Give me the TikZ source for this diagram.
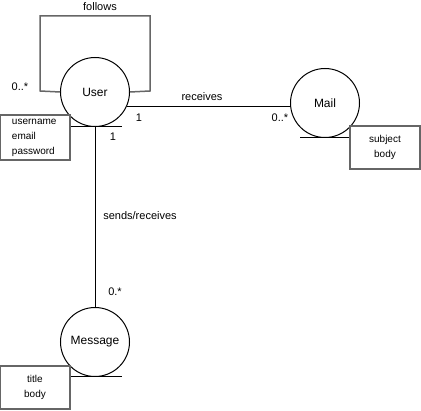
\documentclass[tikz,border=0pt]{standalone}
\usepackage{fontspec}
\setmainfont{Liberation Sans}
\usetikzlibrary{positioning}
\tikzset{
  entity/.style={draw, circle, line width=1pt, minimum size=69pt, inner sep=0pt,
    font=\fontsize{12}{14}\selectfont},
  attrbox/.style={draw=black!60, line width=1.5pt, fill=white, rectangle,
    minimum width=70pt, inner sep=0pt, font=\fontsize{10}{15}\selectfont},
  rel/.style={line width=1pt},
  lbl/.style={font=\fontsize{11}{13}\selectfont, inner sep=0pt},
}
\begin{document}
\begin{tikzpicture}[x=1pt,y=-1pt]
        \useasboundingbox (0,0) rectangle (421,411);
        % Entities
        \node[entity] (user) at (95,92) {User};
        \node[entity] (mail) at (325,103) {Mail};
        \node[entity] (message) at (95,342) {Message};

        % Underlines
        \draw[rel] (user.south) ++(-25,0) -- ++(52,0);
        \draw[rel] (mail.south) ++(-25,0) -- ++(50,0);
        \draw[rel] (message.south) ++(-25,0) -- ++(52,0);

        % Relations
        \draw[black!60, line width=1.5pt] (user.west) -- (40,91) -- (40,16) -- (150,16) -- (150,91) -- (user.east);
        \draw[rel] (user.-25) -- (user.-25 -| mail.west);
        \draw[rel] (user.south) -- (message.north);

        \node[lbl] at (100,7) {follows};
        \node[lbl] at (20,87) {0..*};
        \node[lbl] at (202,97) {receives};
        \node[lbl] at (139,118) {1};
        \node[lbl] at (280,118) {0..*};
        \node[lbl] at (113,137) {1};
        \node[lbl] at (140,216) {sends/receives};
        \node[lbl] at (115,292) {0.*};

        % Attributes
        \node[attrbox, minimum height=45pt, text width=46pt, align=left] (userattr) at (35,137.5) {username\\email\\password};
        \node[attrbox, minimum height=43pt, align=center] (mailattr) at (385,147.5) {subject\\body};
        \node[attrbox, minimum height=43pt, align=center] (messageattr) at (35,387.5) {title\\body};
    \end{tikzpicture}
\end{document}
